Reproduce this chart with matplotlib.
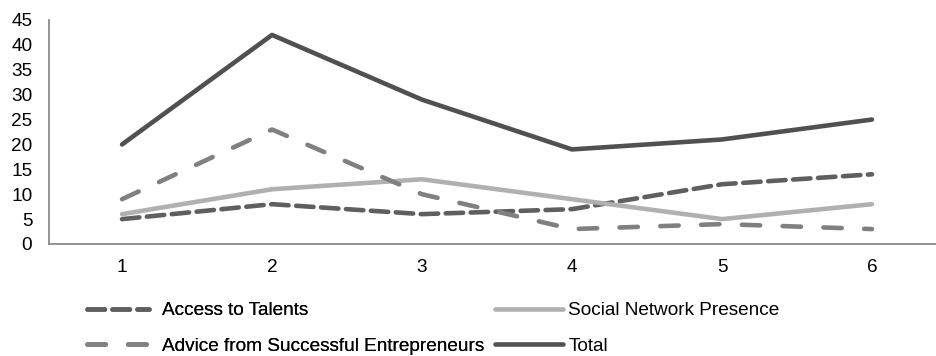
import matplotlib
matplotlib.use("Agg")
import matplotlib.pyplot as plt

plt.rcParams['font.family'] = ['Liberation Sans', 'DejaVu Sans']

periods = [1, 2, 3, 4, 5, 6]
access_to_talents = [5, 8, 6, 7, 12, 14]
social_network_presence = [6, 11, 13, 9, 5, 8]
advice_from_entrepreneurs = [9, 23, 10, 3, 4, 3]
total = [20, 42, 29, 19, 21, 25]
y_ticks = list(range(0, 50, 5))

W, H = 936, 356
fig = plt.figure(figsize=(W / 100, H / 100), dpi=100)
ax = fig.add_axes([49 / W, (H - 244) / H, (W - 49) / W, 224 / H])

lw = 3.3
fs = 13.7
l_access, = ax.plot(periods, access_to_talents, color='#5f5f5f', lw=lw,
                    dashes=(3.8, 1.65), dash_capstyle='round',
                    solid_capstyle='round', label='Access to Talents')
l_social, = ax.plot(periods, social_network_presence, color='#b0b0b0', lw=lw,
                    solid_capstyle='round', solid_joinstyle='round',
                    label='Social Network Presence')
l_advice, = ax.plot(periods, advice_from_entrepreneurs, color='#808080', lw=lw,
                    dashes=(4.0, 4.9), dash_capstyle='round',
                    label='Advice from Successful Entrepreneurs')
l_total, = ax.plot(periods, total, color='#505050', lw=lw,
                   solid_capstyle='round', solid_joinstyle='round',
                   label='Total')

ax.set_xlim(0.513, 6.427)
ax.set_ylim(0, 45)
ax.set_xticks(periods)
ax.set_yticks(y_ticks)
ax.tick_params(axis='both', length=0, labelsize=fs, colors='black')
ax.tick_params(axis='y', pad=12)
ax.tick_params(axis='x', pad=11)
for side in ('top', 'right'):
    ax.spines[side].set_visible(False)
for side in ('left', 'bottom'):
    ax.spines[side].set_color('#8a8a8a')
    ax.spines[side].set_linewidth(1.3)

common = dict(frameon=False, fontsize=fs, borderpad=0, borderaxespad=0,
              labelspacing=0.95, loc='upper left', bbox_transform=fig.transFigure)
leg1 = fig.legend([l_access, l_advice],
                  ['Access to Talents', 'Advice from Successful Entrepreneurs'],
                  bbox_to_anchor=(87 / W, (H - 302) / H),
                  handlelength=3.25, handletextpad=0.7, **common)
fig.add_artist(leg1)
fig.legend([l_social, l_total], ['Social Network Presence', 'Total'],
           bbox_to_anchor=(495 / W, (H - 302) / H),
           handlelength=3.55, handletextpad=0.3, **common)

fig.savefig('out.png', dpi=100)
